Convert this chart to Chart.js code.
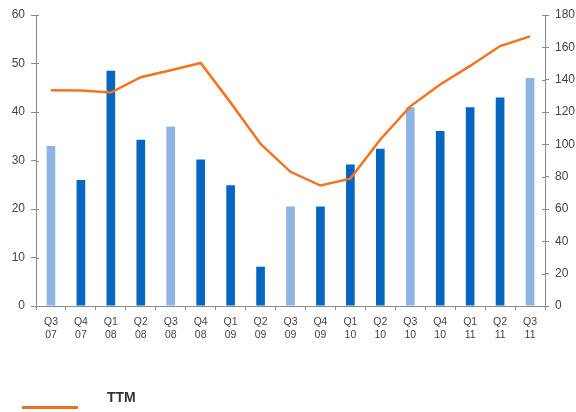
<!DOCTYPE html>
<html>
<head>
<meta charset="utf-8">
<script src="https://cdn.jsdelivr.net/npm/chart.js@4"></script>
<style>
  html, body { margin: 0; padding: 0; background: #fff; }
  #wrap { position: relative; width: 576px; height: 412px; }
  #legend-line { position: absolute; left: 22px; top: 406px; width: 56px; height: 3px; background: #ea711e; }
  #legend-text { position: absolute; left: 107px; top: 389px; font: bold 14px "Liberation Sans", Arial, sans-serif; color: #333; }
</style>
</head>
<body>
<div id="wrap">
  <canvas id="c" width="576" height="412"></canvas>
  <div id="legend-line"></div>
  <div id="legend-text">TTM</div>
</div>
<script>
const quarters = ["Q3","Q4","Q1","Q2","Q3","Q4","Q1","Q2","Q3","Q4","Q1","Q2","Q3","Q4","Q1","Q2","Q3"];
const years    = ["07","07","08","08","08","08","09","09","09","09","10","10","10","10","11","11","11"];
const quarterly = [33, 26, 48.5, 34.3, 37, 30.2, 24.9, 8.1, 20.5, 20.5, 29.2, 32.4, 41, 36.1, 41, 43, 47];
const ttm = [133.5, 133.3, 132, 141.5, 145.8, 150.3, 125.8, 100.2, 83, 74.5, 78.8, 103, 123.5, 137, 148.5, 160.8, 166.8];
const leftTicks = [0, 10, 20, 30, 40, 50, 60];
const rightTicks = [0, 20, 40, 60, 80, 100, 120, 140, 160, 180];

const labels = quarters.map((q, i) => [q, years[i]]);
const DARK = '#0767c0', LIGHT = '#8db4e3';
const barColors = quarters.map(q => q === 'Q3' ? LIGHT : DARK);
const FAMILY = '"Liberation Sans", Arial, sans-serif';
const axisColor = '#8a8a8a';

// short tick stubs on the inner side of the value axes
const innerTicks = {
  id: 'innerTicks',
  afterDraw(chart) {
    const ctx = chart.ctx;
    ctx.save();
    ctx.strokeStyle = axisColor;
    ctx.lineWidth = 1;
    ['y', 'y2'].forEach(id => {
      const s = chart.scales[id];
      const x = id === 'y' ? s.right : s.left;
      const dir = id === 'y' ? 1 : -1;
      s.ticks.forEach(t => {
        const py = Math.round(s.getPixelForValue(t.value)) + 0.5;
        ctx.beginPath();
        ctx.moveTo(x, py);
        ctx.lineTo(x + dir * 3, py);
        ctx.stroke();
      });
    });
    ctx.restore();
  }
};

new Chart(document.getElementById('c'), {
  type: 'bar',
  data: {
    labels: labels,
    datasets: [
      {
        type: 'line',
        label: 'TTM',
        data: ttm,
        yAxisID: 'y2',
        borderColor: '#f4731f',
        borderWidth: 2.5,
        pointRadius: 0,
        tension: 0,
        order: 0
      },
      {
        type: 'bar',
        label: 'Quarter',
        data: quarterly,
        yAxisID: 'y',
        backgroundColor: barColors,
        barPercentage: 0.29,
        categoryPercentage: 1,
        order: 1
      }
    ]
  },
  plugins: [innerTicks],
  options: {
    responsive: false,
    animation: false,
    layout: { padding: { top: 15, left: 0, right: 0, bottom: 0 } },
    plugins: { legend: { display: false }, tooltip: { enabled: false } },
    scales: {
      x: {
        offset: true,
        grid: { display: true, drawOnChartArea: false, offset: true, tickLength: 4, color: axisColor },
        border: { display: true, color: axisColor, width: 1 },
        ticks: { font: { family: FAMILY, size: 10.5, lineHeight: 1.29 }, color: '#444', padding: 5, maxRotation: 0, autoSkip: false },
        afterFit: s => { s.height = 106; }
      },
      y: {
        position: 'left',
        min: 0, max: 60,
        afterBuildTicks: s => { s.ticks = leftTicks.map(v => ({ value: v })); },
        grid: { display: true, drawOnChartArea: false, tickLength: 5, color: axisColor },
        border: { display: true, color: axisColor, width: 1 },
        ticks: { font: { family: FAMILY, size: 12 }, color: '#444', padding: 6 },
        afterFit: s => { s.width = 36; }
      },
      y2: {
        position: 'right',
        min: 0, max: 180,
        afterBuildTicks: s => { s.ticks = rightTicks.map(v => ({ value: v })); },
        grid: { display: true, drawOnChartArea: false, tickLength: 4, color: axisColor },
        border: { display: true, color: axisColor, width: 1 },
        ticks: { font: { family: FAMILY, size: 12 }, color: '#444', padding: 6 },
        afterFit: s => { s.width = 31; }
      }
    }
  }
});
</script>
</body>
</html>
